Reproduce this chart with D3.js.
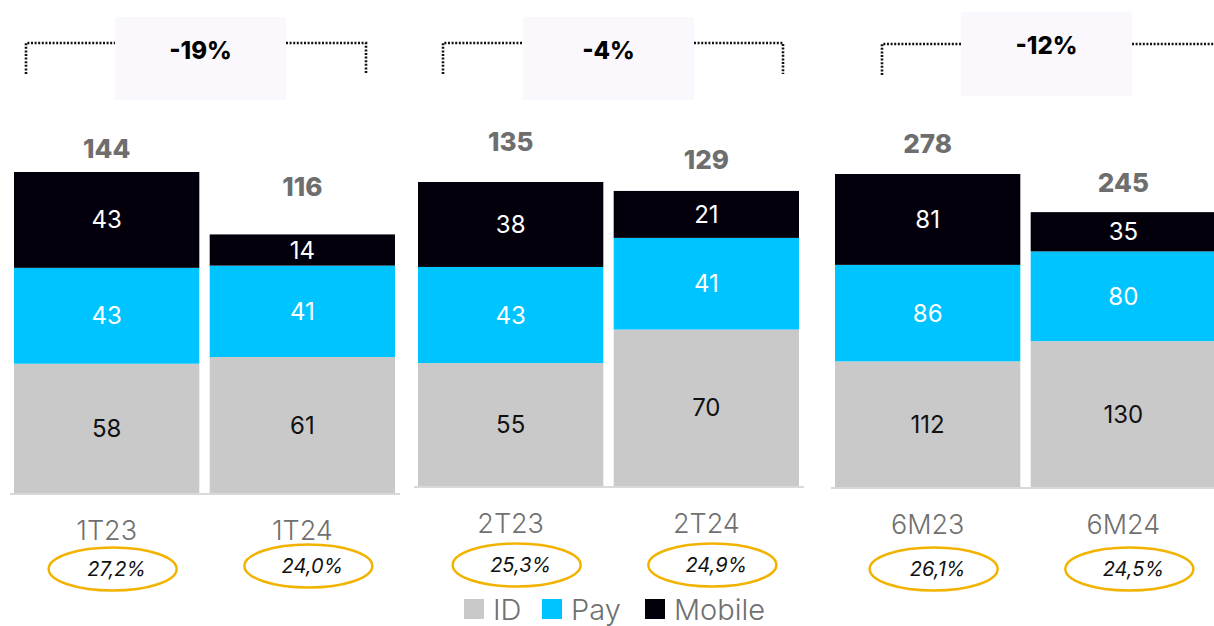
<!DOCTYPE html>
<html>
<head>
<meta charset="utf-8">
<script src="https://cdn.jsdelivr.net/npm/d3@7"></script>
<style>
  body { margin: 0; background: #fff; }
  svg { display: block; font-family: Inter, "Open Sans", sans-serif; }
</style>
</head>
<body>
<div id="chart"></div>
<script>
const categories = ["1T23", "1T24", "2T23", "2T24", "6M23", "6M24"];
const panelOf = [0, 0, 1, 1, 2, 2];
const seriesNames = ["ID", "Pay", "Mobile"];
const idValues = [58, 61, 55, 70, 112, 130];
const payValues = [43, 41, 43, 41, 86, 80];
const mobileValues = [43, 14, 38, 21, 81, 35];
const totals = [144, 116, 135, 129, 278, 245];
const margins = ["27,2%", "24,0%", "25,3%", "24,9%", "26,1%", "24,5%"];
const changes = ["-19%", "-4%", "-12%"];

const colors = { ID: "#c9c9c9", Pay: "#00c4ff", Mobile: "#03000b" };
const labelColors = { ID: "#111", Pay: "#fff", Mobile: "#fff" };

// layout per panel
const panelX = [[14, 395], [418, 799], [835, 1216]];
const panelBase = [493, 486, 487];
const panelTop = [172, 182, 174];
const totalGap = [24, 48, 41, 31, 31, 30];
const ovalY = [569, 566, 565, 565, 569, 569];
const bracket = [
  { l: 26, r: 366, y: 43, box: [115, 17, 171, 83] },
  { l: 443, r: 783, y: 43, box: [523, 17, 171, 83] },
  { l: 882, r: 1222, y: 44, box: [961, 12, 171, 84] }
];

const W = 1214, H = 626;
const svg = d3.select("#chart").append("svg").attr("width", W).attr("height", H);

const rows = categories.map((c, i) => ({
  cat: c, panel: panelOf[i], ID: idValues[i], Pay: payValues[i], Mobile: mobileValues[i],
  total: totals[i], margin: margins[i], i
}));
const stacked = d3.stack().keys(seriesNames)(rows);

[0, 1, 2].forEach(p => {
  const pr = rows.filter(r => r.panel === p);
  const x = d3.scaleBand().domain(pr.map(r => r.cat)).range(panelX[p]).paddingInner(0.053);
  const y = d3.scaleLinear()
    .domain([0, d3.max(pr, r => r.ID + r.Pay + r.Mobile)])
    .range([panelBase[p], panelTop[p]]);
  const g = svg.append("g");

  // bars
  stacked.forEach(s => {
    const pts = s.filter(d => d.data.panel === p);
    g.selectAll(null).data(pts).join("rect")
      .attr("x", d => x(d.data.cat))
      .attr("y", d => y(d[1]))
      .attr("width", x.bandwidth())
      .attr("height", d => y(d[0]) - y(d[1]))
      .attr("fill", colors[s.key]);
    g.selectAll(null).data(pts).join("text")
      .attr("x", d => x(d.data.cat) + x.bandwidth() / 2)
      .attr("y", d => (y(d[0]) + y(d[1])) / 2)
      .attr("text-anchor", "middle")
      .attr("dominant-baseline", "central")
      .attr("fill", labelColors[s.key])
      .style("font-size", "24px")
      .text(d => d.data[s.key]);
  });

  // baseline
  g.append("line")
    .attr("x1", panelX[p][0] - 4).attr("x2", panelX[p][1] + 5)
    .attr("y1", panelBase[p] + 1).attr("y2", panelBase[p] + 1)
    .attr("stroke", "#d9d9d9").attr("stroke-width", 2);

  // totals
  g.selectAll(null).data(pr).join("text")
    .attr("x", r => x(r.cat) + x.bandwidth() / 2)
    .attr("y", r => y(r.ID + r.Pay + r.Mobile) - totalGap[r.i])
    .attr("text-anchor", "middle")
    .attr("dominant-baseline", "central")
    .attr("fill", "#6e6e6e")
    .style("font-size", "26px").style("font-weight", 800)
    .text(r => r.total);

  // category labels
  g.selectAll(null).data(pr).join("text")
    .attr("x", r => x(r.cat) + x.bandwidth() / 2)
    .attr("y", panelBase[p] + 37)
    .attr("text-anchor", "middle")
    .attr("dominant-baseline", "central")
    .attr("fill", "#707070")
    .style("font-size", "27px").style("font-weight", 300)
    .text(r => r.cat);

  // margin ovals
  g.selectAll(null).data(pr).join("ellipse")
    .attr("cx", r => x(r.cat) + x.bandwidth() / 2 + 6)
    .attr("cy", r => ovalY[r.i])
    .attr("rx", 64).attr("ry", 21.5)
    .attr("fill", "none").attr("stroke", "#f2b300").attr("stroke-width", 2.5);
  g.selectAll(null).data(pr).join("text")
    .attr("x", r => x(r.cat) + x.bandwidth() / 2 + 10)
    .attr("y", r => ovalY[r.i])
    .attr("text-anchor", "middle")
    .attr("dominant-baseline", "central")
    .attr("fill", "#111")
    .style("font-size", "20px").style("font-style", "italic")
    .text(r => r.margin);

  // change bracket
  const b = bracket[p];
  const dots = { stroke: "#111", "stroke-width": 2.6, "stroke-dasharray": "2 1.6", fill: "none" };
  const path1 = g.append("path").attr("d", `M${b.l},${b.y + 31}V${b.y}H${b.box[0]}`);
  const path2 = g.append("path").attr("d", `M${b.box[0] + b.box[2]},${b.y}H${b.r}V${b.y + 31}`);
  [path1, path2].forEach(pth => Object.entries(dots).forEach(([k, v]) => pth.attr(k, v)));
  g.append("rect")
    .attr("x", b.box[0]).attr("y", b.box[1])
    .attr("width", b.box[2]).attr("height", b.box[3])
    .attr("fill", "#faf8fd");
  g.append("text")
    .attr("x", b.box[0] + b.box[2] / 2)
    .attr("y", b.box[1] + 33)
    .attr("text-anchor", "middle")
    .attr("dominant-baseline", "central")
    .attr("fill", "#000")
    .style("font-size", "24px").style("font-weight", 800)
    .text(changes[p]);
});

// legend
const legendX = [464, 542, 645];
const lg = svg.append("g").attr("transform", "translate(0,609)");
seriesNames.forEach((s, i) => {
  lg.append("rect").attr("x", legendX[i]).attr("y", -10).attr("width", 20).attr("height", 20)
    .attr("fill", colors[s]);
  lg.append("text").attr("x", legendX[i] + 29).attr("y", 0)
    .attr("dominant-baseline", "central")
    .attr("fill", "#707070")
    .style("font-size", "29px").style("font-weight", 300)
    .text(s);
});
</script>
</body>
</html>
